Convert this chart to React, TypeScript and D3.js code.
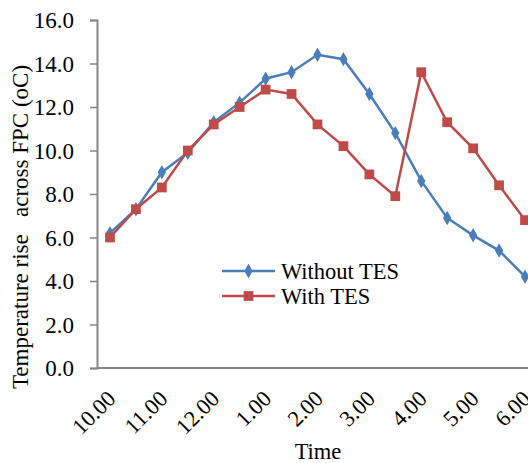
import React, { useRef, useEffect } from 'react';
import * as d3 from 'd3';

// half-hour readings, labels only on the full hours
const times = ["10.00", "10.30", "11.00", "11.30", "12.00", "12.30", "1.00", "1.30", "2.00", "2.30", "3.00", "3.30", "4.00", "4.30", "5.00", "5.30", "6.00"];
const hourLabels = ["10.00", "11.00", "12.00", "1.00", "2.00", "3.00", "4.00", "5.00", "6.00"];
const withoutTES = [6.2, 7.3, 9.0, 9.9, 11.3, 12.2, 13.3, 13.6, 14.4, 14.2, 12.6, 10.8, 8.6, 6.9, 6.1, 5.4, 4.2];
const withTES = [6.0, 7.3, 8.3, 10.0, 11.2, 12.0, 12.8, 12.6, 11.2, 10.2, 8.9, 7.9, 13.6, 11.3, 10.1, 8.4, 6.8];
const yTicks = [0, 2, 4, 6, 8, 10, 12, 14, 16];

const blue = "#4A7EBB";
const red = "#BE4B48";
const axisGray = "#868686";
const font = "Liberation Serif";

const Chart = () => {
    const ref = useRef<SVGSVGElement | null>(null);

    useEffect(() => {
        const svg = d3.select(ref.current);
        svg.selectAll("*").remove();

        const left = 97, top = 20, bottom = 368;
        const step = 25.94;
        const right = left + step * times.length;

        const x = d3.scaleBand().domain(times).range([left, right]);
        const y = d3.scaleLinear().domain([0, 16]).range([bottom, top]);
        const cx = (t: string) => x(t)! + x.bandwidth() / 2;

        // y axis
        const yAxis = svg.append("g")
            .attr("transform", `translate(${left},0)`)
            .call(d3.axisLeft(y).tickValues(yTicks).tickSize(7).tickFormat(d3.format(".1f")));
        yAxis.select(".domain").attr("stroke", axisGray).attr("stroke-width", 2);
        yAxis.selectAll(".tick line").attr("stroke", axisGray).attr("stroke-width", 1.5);
        yAxis.selectAll(".tick text")
            .attr("x", -23)
            .attr("dy", "0.33em")
            .attr("font-family", font)
            .attr("font-size", 23)
            .attr("fill", "#000");

        // x axis line
        svg.append("line")
            .attr("x1", left).attr("x2", 528)
            .attr("y1", bottom).attr("y2", bottom)
            .attr("stroke", axisGray).attr("stroke-width", 2);

        // x labels, rotated
        svg.append("g").selectAll("text")
            .data(hourLabels)
            .enter().append("text")
            .attr("transform", d => `translate(${cx(d) + 7},400) rotate(-45)`)
            .attr("text-anchor", "end")
            .attr("font-family", font)
            .attr("font-size", 22.5)
            .text(d => d);

        // axis titles
        svg.append("text")
            .attr("x", 318).attr("y", 459)
            .attr("text-anchor", "middle")
            .attr("font-family", font)
            .attr("font-size", 22.5)
            .text("Time");

        svg.append("text")
            .attr("transform", `translate(28,227) rotate(-90)`)
            .attr("text-anchor", "middle")
            .style("white-space", "pre")
            .attr("font-family", font)
            .attr("font-size", 23)
            .text("Temperature rise   across FPC (oC)");

        const line = d3.line<number>()
            .x((d, i) => cx(times[i]))
            .y(d => y(d));

        const series = [
            { name: "Without TES", values: withoutTES, color: blue, marker: d3.symbolDiamond, size: 60 },
            { name: "With TES", values: withTES, color: red, marker: d3.symbolSquare, size: 95 },
        ];

        series.forEach(s => {
            svg.append("path")
                .datum(s.values)
                .attr("d", line)
                .attr("fill", "none")
                .attr("stroke", s.color)
                .attr("stroke-width", 2.5);
            svg.append("g").selectAll("path")
                .data(s.values)
                .enter().append("path")
                .attr("transform", (d, i) => `translate(${cx(times[i])},${y(d)})`)
                .attr("d", d3.symbol().type(s.marker).size(s.size)())
                .attr("fill", s.color);
        });

        // legend
        const legend = svg.append("g");
        series.forEach((s, i) => {
            const ly = 271 + i * 25;
            legend.append("line")
                .attr("x1", 222).attr("x2", 275)
                .attr("y1", ly).attr("y2", ly)
                .attr("stroke", s.color).attr("stroke-width", 2.5);
            legend.append("path")
                .attr("transform", `translate(248.5,${ly})`)
                .attr("d", d3.symbol().type(s.marker).size(s.size)())
                .attr("fill", s.color);
            legend.append("text")
                .attr("x", 281).attr("y", ly)
                .attr("dy", "0.34em")
                .attr("font-family", font)
                .attr("font-size", 22.5)
                .text(s.name);
        });
    }, []);

    return <svg ref={ref} width={528} height={463} style={{ display: "block" }} />;
};

export default function App() {
    return (
        <div style={{ position: "absolute", left: 0, top: 0, width: 528, height: 463, overflow: "hidden", background: "#fff" }}>
            <Chart />
        </div>
    );
}
